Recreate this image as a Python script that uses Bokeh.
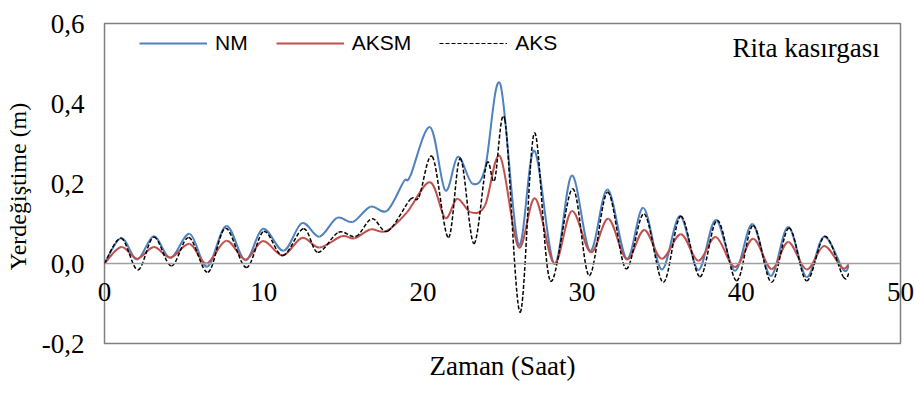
import numpy as np
from bokeh.plotting import figure
from bokeh.models import (ColumnDataSource, Legend, LegendItem, Label, Span,
                          FixedTicker, CustomJSTickFormatter)
from bokeh.embed import file_html
from bokeh.resources import INLINE

# ---- data (time in hours, displacement in m) ----
t_nm = [0, 1.05, 2.05, 3.1, 4.15, 5.35, 6.45, 7.65, 8.85, 9.95, 11.25, 12.4, 13.5, 14.6, 15.6,
        16.7, 17.75, 18.8, 19.2, 20.45, 21.4, 22.2, 23.1, 23.9, 24.85, 26.0, 27.0, 28.25, 29.35,
        30.5, 31.6, 32.8, 33.85, 35.0, 36.15, 37.3, 38.4, 39.6, 40.7, 41.85, 42.95, 44.1, 45.2,
        46.4, 46.75]
nm = [0, 0.064, 0.010, 0.068, 0.014, 0.074, -0.008, 0.094, 0.008, 0.087, 0.032, 0.101, 0.067, 0.114, 0.104,
      0.142, 0.132, 0.205, 0.218, 0.341, 0.183, 0.267, 0.200, 0.237, 0.450, 0.048, 0.282, -0.001, 0.220,
      0.032, 0.185, 0.012, 0.139, -0.015, 0.119, -0.016, 0.109, -0.018, 0.099, -0.031, 0.091, -0.034, 0.067,
      -0.015, -0.006]

t_aksm = [0, 1.05, 2.05, 3.1, 4.15, 5.35, 6.4, 7.65, 8.85, 9.95, 11.2, 12.4, 13.5, 14.9, 15.7,
          16.7, 17.7, 19.0, 20.45, 21.4, 22.15, 23.0, 23.9, 24.85, 26.0, 27.05, 28.25, 29.35,
          30.55, 31.65, 32.8, 33.9, 35.0, 36.2, 37.3, 38.4, 39.6, 40.75, 41.9, 42.95, 44.1, 45.2,
          46.3, 46.75]
aksm = [0, 0.041, 0.012, 0.041, 0.015, 0.049, 0.000, 0.057, 0.010, 0.056, 0.020, 0.064, 0.040, 0.068, 0.063,
        0.085, 0.081, 0.128, 0.203, 0.114, 0.162, 0.128, 0.145, 0.268, 0.041, 0.163, 0.000, 0.131,
        0.028, 0.112, 0.010, 0.084, 0.012, 0.073, 0.007, 0.066, -0.009, 0.062, -0.014, 0.054, -0.015, 0.044,
        -0.010, -0.002]

t_aks = [0, 1.05, 2.1, 3.1, 4.2, 5.3, 6.5, 7.6, 8.9, 10.0, 11.2, 12.5, 13.4, 14.7, 15.8,
         16.8, 17.8, 19.2, 19.75, 20.6, 21.6, 22.35, 23.2, 24.0, 24.5, 25.15, 26.1, 27.0, 28.0, 29.4,
         30.45, 31.6, 32.75, 33.9, 35.1, 36.2, 37.4, 38.5, 39.7, 40.75, 41.9, 43.0, 44.1, 45.25,
         46.4, 46.75]
aks = [0, 0.063, -0.016, 0.066, -0.006, 0.065, -0.022, 0.088, -0.010, 0.080, 0.020, 0.087, 0.028, 0.078, 0.068,
       0.112, 0.081, 0.160, 0.166, 0.267, 0.065, 0.263, 0.050, 0.249, 0.208, 0.359, -0.122, 0.326, -0.043, 0.187,
       -0.030, 0.178, -0.013, 0.124, -0.047, 0.118, -0.033, 0.108, -0.043, 0.095, -0.047, 0.089, -0.043, 0.068,
       -0.033, -0.025]

series_names = ["NM", "AKSM", "AKS"]
x_ticks = [0, 10, 20, 30, 40, 50]
y_ticks = [-0.2, 0.0, 0.2, 0.4, 0.6]
annotation_text = "Rita kasırgası"
x_title = "Zaman (Saat)"
y_title = "Yerdeğiştime  (m)"


def smooth_source(t, v):
    """Excel-like smoothed line: Catmull-Rom segments expressed as Bezier glyph data."""
    t = np.asarray(t, float)
    v = np.asarray(v, float)
    n = len(t)
    d = dict(x0=[], y0=[], x1=[], y1=[], cx0=[], cy0=[], cx1=[], cy1=[])
    for i in range(n - 1):
        a = max(i - 1, 0)
        b = min(i + 2, n - 1)
        d["x0"].append(t[i]); d["y0"].append(v[i])
        d["x1"].append(t[i + 1]); d["y1"].append(v[i + 1])
        d["cx0"].append(t[i] + (t[i + 1] - t[a]) / 6)
        d["cy0"].append(v[i] + (v[i + 1] - v[a]) / 6)
        d["cx1"].append(t[i + 1] - (t[b] - t[i]) / 6)
        d["cy1"].append(v[i + 1] - (v[b] - v[i]) / 6)
    return ColumnDataSource(d)


SERIF = "Liberation Serif"
SANS = "Liberation Sans"
COLORS = ["#4F81BD", "#C0504D", "black"]
WIDTHS = [2.0, 2.0, 1.5]
DASHES = ["solid", "solid", "4 2"]

# frame = the plot-area box (0..50 x -0.2..0.6), drawn by the plot outline
p = figure(width=914, height=394, x_range=(x_ticks[0], x_ticks[-1]), y_range=(y_ticks[0], y_ticks[-1]),
           output_backend="svg", toolbar_location=None,
           min_border_left=104, min_border_right=14, min_border_top=23, min_border_bottom=51)
p.grid.visible = False
p.outline_line_color = "#7f7f7f"
p.outline_line_width = 1.5
p.background_fill_color = "white"
p.border_fill_color = "white"

# y axis
yax = p.yaxis[0]
yax.ticker = FixedTicker(ticks=y_ticks)
yax.formatter = CustomJSTickFormatter(code="return tick.toFixed(1).replace('.', ',');")
yax.major_label_text_font = SERIF
yax.major_label_text_font_size = "27px"
yax.major_label_text_color = "black"
yax.major_tick_line_color = None
yax.major_tick_out = 0
yax.major_tick_in = 0
yax.minor_tick_line_color = None
yax.axis_line_color = None
yax.major_label_standoff = 20
yax.axis_label = y_title
yax.axis_label_text_font = SERIF
yax.axis_label_text_font_size = "24px"
yax.axis_label_text_font_style = "normal"
yax.axis_label_text_color = "black"
yax.axis_label_standoff = 8

# x axis: the labels are pulled up so they sit just under the zero line, as in the original
xax = p.xaxis[0]
xax.ticker = FixedTicker(ticks=x_ticks)
xax.major_label_text_font = SERIF
xax.major_label_text_font_size = "27px"
xax.major_label_text_color = "black"
xax.major_tick_line_color = None
xax.major_tick_out = 0
xax.major_tick_in = 0
xax.minor_tick_line_color = None
xax.axis_line_color = None
xax.major_label_standoff = -61
xax.axis_label = x_title
xax.axis_label_text_font = SERIF
xax.axis_label_text_font_size = "27px"
xax.axis_label_text_font_style = "normal"
xax.axis_label_text_color = "black"
xax.axis_label_standoff = 47

# horizontal line at y = 0
p.add_layout(Span(location=0, dimension="width", line_color="#a0a0a0", line_width=1.5))

legend_items = []
for name, t, v, c, w, dsh in zip(series_names, [t_nm, t_aksm, t_aks], [nm, aksm, aks], COLORS, WIDTHS, DASHES):
    # smoothed curve (like Excel's smoothed line) through the read values
    p.bezier(source=smooth_source(t, v), x0="x0", y0="y0", x1="x1", y1="y1",
             cx0="cx0", cy0="cy0", cx1="cx1", cy1="cy1", line_color=c, line_width=w, line_dash=dsh)
    # same values as a plain line renderer kept muted (invisible); it supplies the legend swatch
    r = p.line(x=t, y=v, line_color=c, line_width=w if dsh == "solid" else 1.2, line_dash=dsh,
               muted_alpha=0)
    r.muted = True
    legend_items.append(LegendItem(label=name, renderers=[r]))

legend = Legend(items=legend_items, orientation="horizontal", location=(35, 288), margin=0, padding=0,
                spacing=28, glyph_width=68, glyph_height=24, label_height=24, label_standoff=8,
                label_text_font=SANS, label_text_font_size="21px", label_text_color="black",
                border_line_color=None, background_fill_alpha=0)
p.add_layout(legend, "center")

p.add_layout(Label(x=48.7, y=0.54, text=annotation_text, text_align="right",
                   text_baseline="middle", text_font=SERIF, text_font_size="27px", text_color="black"))

open("out.html", "w").write(file_html(p, INLINE))
